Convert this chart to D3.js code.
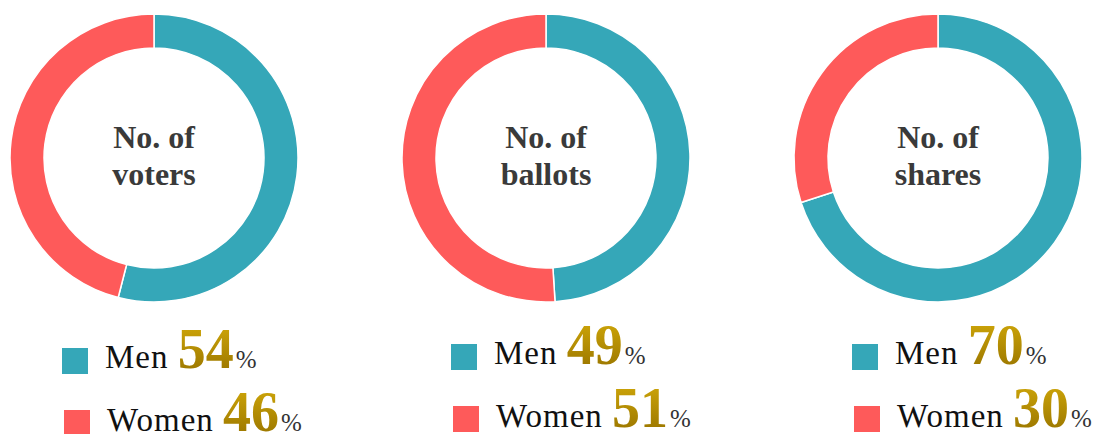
<!DOCTYPE html>
<html>
<head>
<meta charset="utf-8">
<script src="https://cdn.jsdelivr.net/npm/d3@7"></script>
<style>
  html, body { margin: 0; padding: 0; background: #fff; }
  svg { display: block; }
</style>
</head>
<body>
<svg id="chart" width="1097" height="434"></svg>
<script>
// Share of men and women for each measure
const titles = [["No. of", "voters"], ["No. of", "ballots"], ["No. of", "shares"]];
const groups = ["Men", "Women"];
const menShare = [54, 49, 70];
const womenShare = [46, 51, 30];

const W = 1097, H = 434;
const colors = d3.scaleOrdinal().domain(groups).range(["#35a7b8", "#fe5a5a"]);

const svg = d3.select("#chart");
const defs = svg.append("defs");

// donut geometry
const cx = d3.scalePoint().domain(d3.range(titles.length)).range([154, 938]);
const cy = 158;
const outerR = 144, innerR = 110;

// legend anchors (left / top of the first swatch)
const legendLeft = [62, 451, 852];
const legendTop = [348, 344, 344];

const pie = d3.pie().sort(null).value(d => d.value);
const arc = d3.arc().innerRadius(innerR).outerRadius(outerR);

titles.forEach((lines, i) => {
  const data = [
    { key: groups[0], value: menShare[i] },
    { key: groups[1], value: womenShare[i] }
  ];
  const g = svg.append("g").attr("transform", `translate(${cx(i)},${cy})`);

  g.selectAll("path")
    .data(pie(data))
    .join("path")
    .attr("d", arc)
    .attr("fill", d => colors(d.data.key))
    .attr("stroke", "#fff")
    .attr("stroke-width", 1.5);

  const t = g.append("text")
    .attr("text-anchor", "middle")
    .attr("font-family", "'Liberation Serif', 'Times New Roman', serif")
    .attr("font-weight", "bold")
    .attr("font-size", 32)
    .attr("fill", "#3a3a3a");
  t.append("tspan").attr("x", 0).attr("y", -10).text(lines[0]);
  t.append("tspan").attr("x", 0).attr("y", 27).text(lines[1]);

  // legend rows
  data.forEach((d, j) => {
    const sx = legendLeft[i] + j * 2;
    const sy = legendTop[i] + j * 62;
    const base = sy + 20 + j;

    const gid = `num-grad-${i}-${j}`;
    const grad = defs.append("linearGradient")
      .attr("id", gid)
      .attr("gradientUnits", "userSpaceOnUse")
      .attr("x1", 0).attr("x2", 0)
      .attr("y1", base - 40).attr("y2", base);
    grad.append("stop").attr("offset", "0%").attr("stop-color", "#caa208");
    grad.append("stop").attr("offset", "100%").attr("stop-color", "#a07b00");

    svg.append("rect")
      .attr("x", sx).attr("y", sy)
      .attr("width", 26).attr("height", 26)
      .attr("fill", colors(d.key));

    const lt = svg.append("text")
      .attr("x", sx + 43)
      .attr("y", base)
      .attr("font-family", "'Liberation Serif', 'Times New Roman', serif");
    lt.append("tspan")
      .attr("font-size", 33)
      .attr("letter-spacing", 1)
      .attr("fill", "#111")
      .text(d.key + " ");
    lt.append("tspan")
      .attr("font-size", 56)
      .attr("font-weight", "bold")
      .attr("fill", `url(#${gid})`)
      .text(d.value);
    lt.append("tspan")
      .attr("dx", 2)
      .attr("font-size", 25)
      .attr("fill", "#333")
      .text("%");
  });
});
</script>
</body>
</html>
